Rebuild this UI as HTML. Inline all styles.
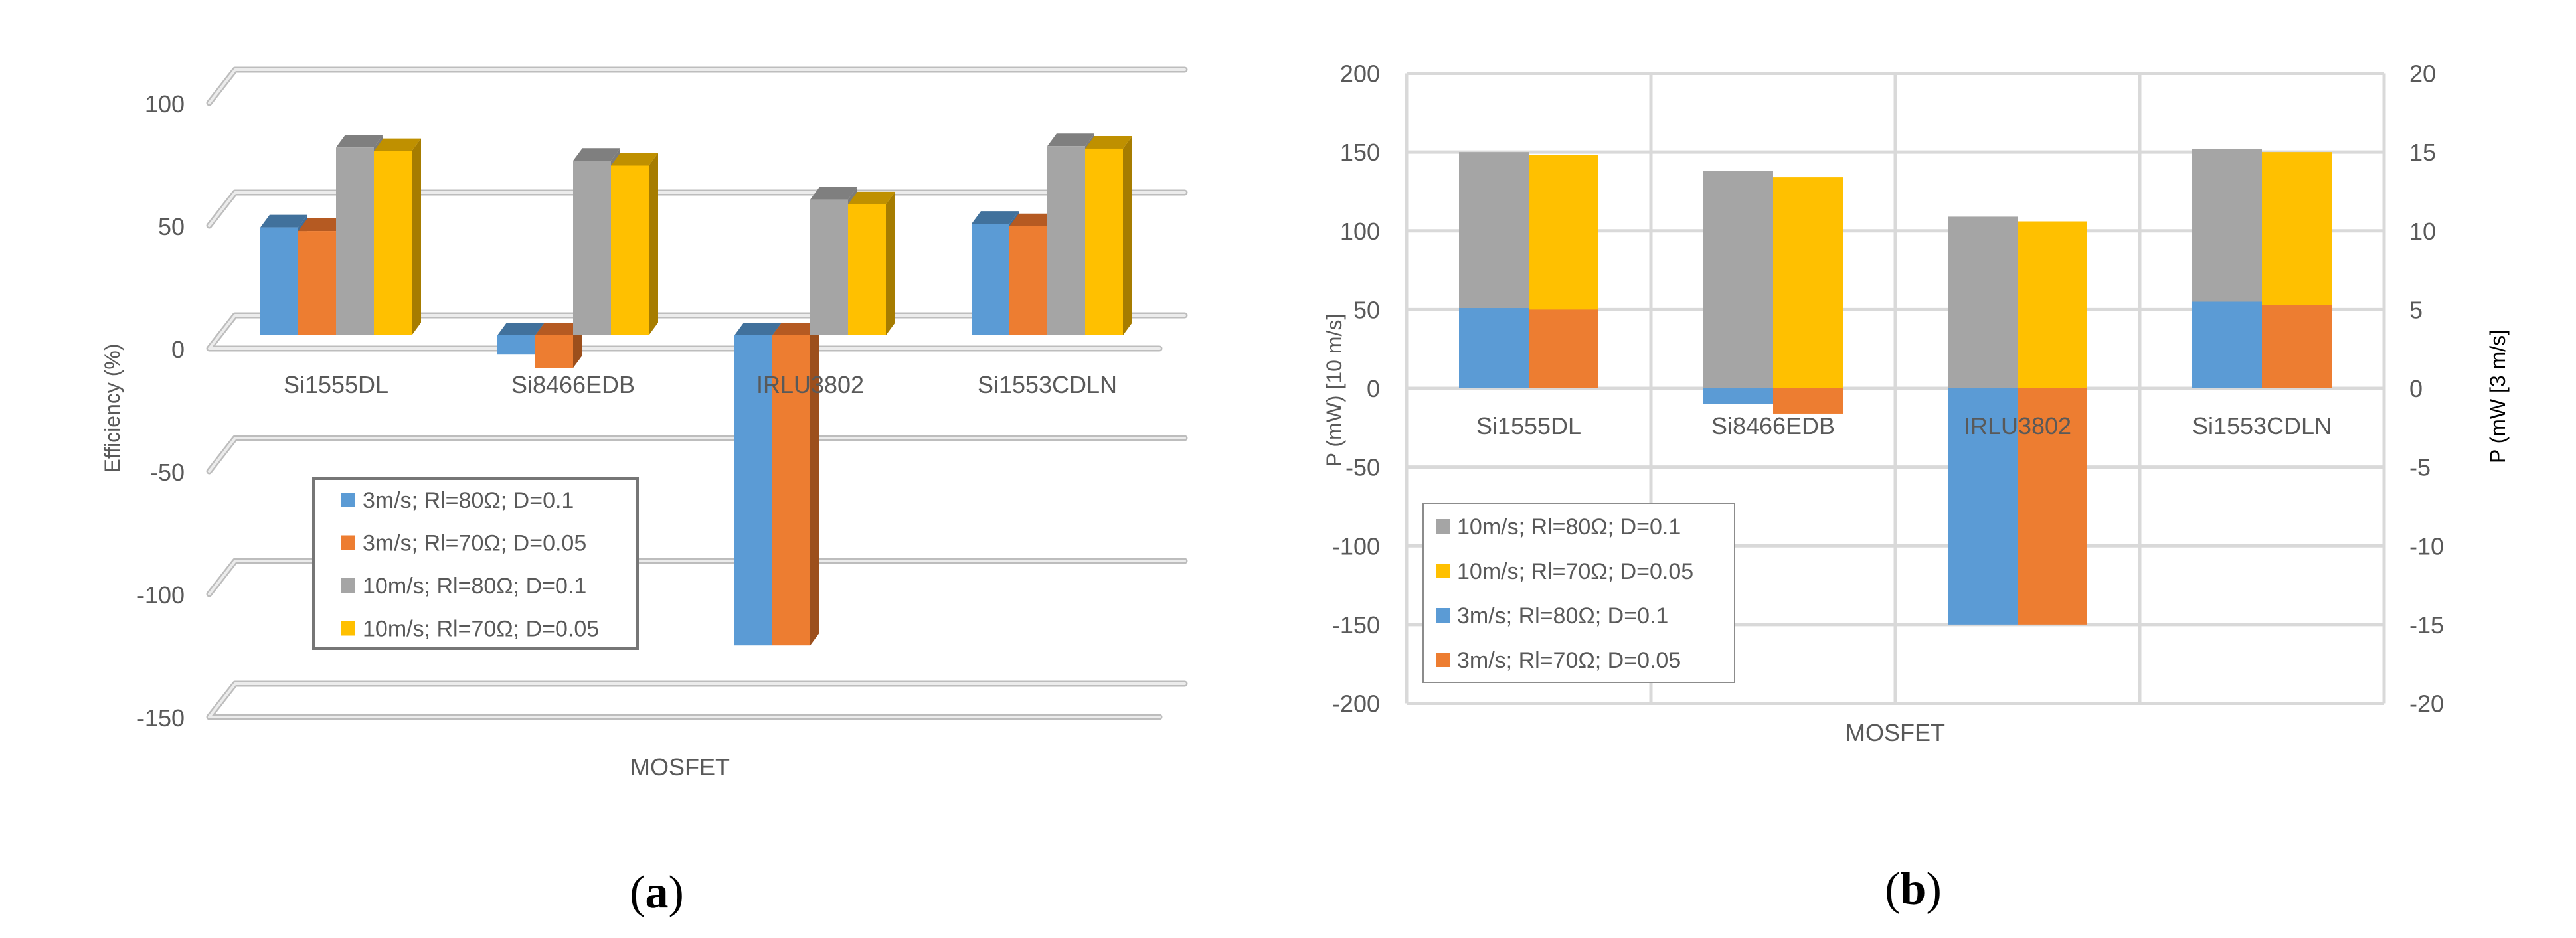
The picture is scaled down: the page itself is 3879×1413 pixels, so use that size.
<!DOCTYPE html>
<html><head><meta charset="utf-8">
<style>
html,body{margin:0;padding:0;background:#fff;}
svg{display:block;}
text{font-family:"Liberation Sans",sans-serif;}
text.serif{font-family:"Liberation Serif",serif;}
</style></head>
<body>
<svg id="s" width="3879" height="1413" viewBox="0 0 3879 1413" xmlns="http://www.w3.org/2000/svg">
<g id="ga"></g>
<g id="gb"></g>
</svg>
<script>
// ---- data ----
const categories = ["Si1555DL","Si8466EDB","IRLU3802","Si1553CDLN"];
const effBlue   = [44.5, -8, -128, 46];
const effOrange = [43, -13.5, -128, 45];
const effGray   = [77.5, 72, 56, 78];
const effYellow = [76, 70, 54, 77];
const effTicks = [100, 50, 0, -50, -100, -150];

const pGray   = [150, 138, 109, 152];
const pYellow = [148, 134, 106, 150];
const pBlue   = [5.1, -1.0, -15, 5.5];
const pOrange = [5.0, -1.6, -15, 5.3];
const pTicksL = [200, 150, 100, 50, 0, -50, -100, -150, -200];
const pTicksR = [20, 15, 10, 5, 0, -5, -10, -15, -20];

const NS = "http://www.w3.org/2000/svg";
function mk(parent, tag, attrs, txt){
  const e = document.createElementNS(NS, tag);
  for (const k in attrs) e.setAttribute(k, attrs[k]);
  if (txt !== undefined) e.textContent = txt;
  parent.appendChild(e);
  return e;
}
const C = {blue:"#5b9bd5", orange:"#ed7d31", gray:"#a5a5a5", yellow:"#ffc000"};
const CT = {blue:"#41719c", orange:"#b55a22", gray:"#7f7f7f", yellow:"#bf9000"};
const CS = {blue:"#3e6e9c", orange:"#9c4f1c", gray:"#7c7c7c", yellow:"#a67c00"};

// ---------- Chart A ----------
const ga = document.getElementById("ga");
const railBack = v => 475 - v*3.7;
const barY = v => 505 - v*3.65;
function rail(g, pts, name){
  const p1 = mk(g,"polyline",{points:pts,fill:"none",stroke:"#bdbdbd","stroke-width":9,"stroke-linejoin":"round","stroke-linecap":"round"});
  
  
  mk(g,"polyline",{points:pts,fill:"none",stroke:"#ececec","stroke-width":4,"stroke-linejoin":"round","stroke-linecap":"round"});
}
effTicks.forEach(v=>{
  const yb = railBack(v), yf = yb+50;
  const pts = (v===0||v===-150) ? `1746,${yf} 315,${yf} 354,${yb} 1784,${yb}` : `315,${yf} 354,${yb} 1784,${yb}`;
  rail(ga, pts, 'gridline-a-'+v);
  const t = mk(ga,"text",{x:278,y:yf+14,"text-anchor":"end","font-size":36,fill:"#595959"}, String(v));
  
  
});
const seriesA = [["blue",effBlue],["orange",effOrange],["gray",effGray],["yellow",effYellow]];
const bw = 57, dx = 14, dy = 19;
categories.forEach((c,i)=>{
  seriesA.forEach(([col,arr],j)=>{
    const x = 392 + i*357 + j*bw;
    const v = arr[i];
    const y0 = barY(0), y1 = barY(v);
    const top = Math.min(y0,y1), bot = Math.max(y0,y1);
    const g = mk(ga,"g",{});
    
    
    mk(g,"polygon",{points:`${x+bw},${top} ${x+bw+dx},${top-dy} ${x+bw+dx},${bot-dy} ${x+bw},${bot}`,fill:CS[col]});
    mk(g,"polygon",{points:`${x},${top} ${x+dx},${top-dy} ${x+bw+dx},${top-dy} ${x+bw},${top}`,fill:CT[col]});
    mk(g,"rect",{x:x,y:top,width:bw,height:bot-top,fill:C[col]});
  });
  const t = mk(ga,"text",{x:392+i*357+2*bw,y:592,"text-anchor":"middle","font-size":36,fill:"#595959"}, c);
  
  
});
let t;
t = mk(ga,"text",{x:0,y:0,transform:"translate(180,615) rotate(-90)","text-anchor":"middle","font-size":32,fill:"#595959"},"Efficiency (%)");


t = mk(ga,"text",{x:1024,y:1168,"text-anchor":"middle","font-size":36,fill:"#595959"},"MOSFET");


t = mk(ga,"text",{x:989,y:1367,"text-anchor":"middle","font-size":70,fill:"#000","class":"serif"});
t.innerHTML = '(<tspan font-weight="bold">a</tspan>)';


// legend A
const legA = mk(ga,"g",{});


mk(legA,"rect",{x:472,y:721,width:488,height:256,fill:"#fff",stroke:"#767676","stroke-width":4});
const legLabelsA = ["3m/s; Rl=80Ω; D=0.1","3m/s; Rl=70Ω; D=0.05","10m/s; Rl=80Ω; D=0.1","10m/s; Rl=70Ω; D=0.05"];
const legColsA = ["blue","orange","gray","yellow"];
legLabelsA.forEach((l,k)=>{
  const y = 753 + k*64.5;
  const e = mk(legA,"g",{});
  
  
  mk(e,"rect",{x:513,y:y-11,width:22,height:22,fill:C[legColsA[k]]});
  mk(e,"text",{x:546,y:y+12,"font-size":34,fill:"#595959"},l);
});

// ---------- Chart B ----------
const gb = document.getElementById("gb");
const X0 = 2118, X1 = 3590;
const yL = v => 585 - v*2.3725;
const yR = v => 585 - v*23.725;
pTicksL.forEach((v,k)=>{
  const y = yL(v);
  const l = mk(gb,"line",{x1:X0,x2:X1,y1:y,y2:y,stroke:"#d9d9d9","stroke-width":5});
  
  
  const a = mk(gb,"text",{x:2078,y:y+13,"text-anchor":"end","font-size":36,fill:"#595959"},String(v));
  
  
  const b = mk(gb,"text",{x:3628,y:y+13,"text-anchor":"start","font-size":36,fill:"#595959"},String(pTicksR[k]));
  
  
});
for (let i=0;i<=4;i++){
  const x = X0 + i*368;
  const l = mk(gb,"line",{x1:x,x2:x,y1:yL(200),y2:yL(-200),stroke:"#d9d9d9","stroke-width":5});
  
  
}
const bwB = 105;
categories.forEach((c,i)=>{
  const xg = 2197 + i*368, xy = xg + bwB;
  const bars = [[xg,yL(pGray[i]),"gray"],[xy,yL(pYellow[i]),"yellow"],[xg,yR(pBlue[i]),"blue"],[xy,yR(pOrange[i]),"orange"]];
  bars.forEach(([x,y,col])=>{
    const y0 = yL(0);
    const r = mk(gb,"rect",{x:x,y:Math.min(y,y0),width:bwB,height:Math.abs(y-y0),fill:C[col]});
    
    
  });
  const tl = mk(gb,"text",{x:xy,y:654,"text-anchor":"middle","font-size":36,fill:"#595959"},c);
  
  
});
t = mk(gb,"text",{x:0,y:0,transform:"translate(2020,588) rotate(-90)","text-anchor":"middle","font-size":32,fill:"#595959"},"P (mW) [10 m/s]");


t = mk(gb,"text",{x:0,y:0,transform:"translate(3772,597) rotate(-90)","text-anchor":"middle","font-size":32,fill:"#000"},"P (mW [3 m/s]");


t = mk(gb,"text",{x:2854,y:1116,"text-anchor":"middle","font-size":36,fill:"#595959"},"MOSFET");


t = mk(gb,"text",{x:2881,y:1362,"text-anchor":"middle","font-size":70,fill:"#000","class":"serif"});
t.innerHTML = '(<tspan font-weight="bold">b</tspan>)';


const legB = mk(gb,"g",{});


mk(legB,"rect",{x:2143,y:758,width:469,height:270,fill:"#fff",stroke:"#8c8c8c","stroke-width":2});
const legLabelsB = ["10m/s; Rl=80Ω; D=0.1","10m/s; Rl=70Ω; D=0.05","3m/s; Rl=80Ω; D=0.1","3m/s; Rl=70Ω; D=0.05"];
const legColsB = ["gray","yellow","blue","orange"];
legLabelsB.forEach((l,k)=>{
  const y = 793 + k*67;
  const e = mk(legB,"g",{});
  
  
  mk(e,"rect",{x:2162,y:y-11,width:22,height:22,fill:C[legColsB[k]]});
  mk(e,"text",{x:2194,y:y+12,"font-size":34,fill:"#595959"},l);
});
</script>
</body></html>
